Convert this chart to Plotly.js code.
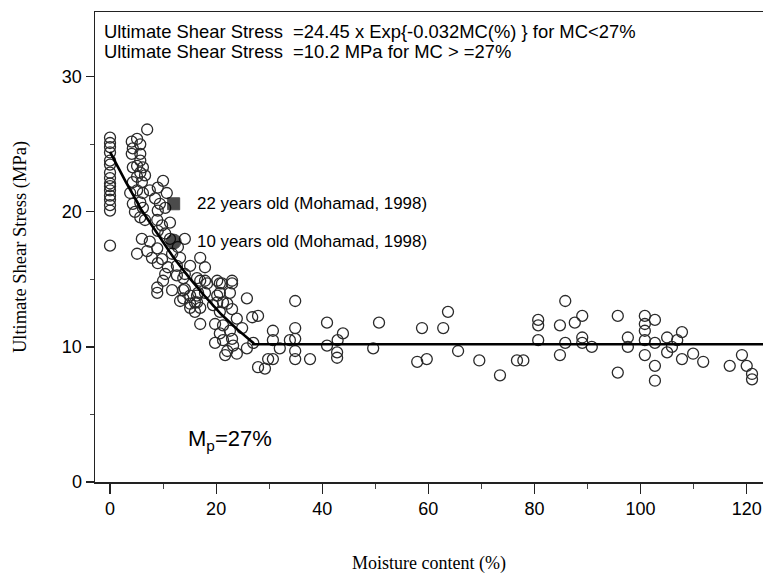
<!DOCTYPE html>
<html>
<head>
<meta charset="utf-8">
<script src="https://cdn.plot.ly/plotly-3.0.1.min.js"></script>
<style>html,body{margin:0;padding:0;background:#fff;}#chart{width:763px;height:574px;}</style>
</head>
<body>
<div id="chart"></div>
<script>
// Measured data: moisture content (%) and ultimate shear stress (MPa)
const moisture = [
  0,0,0,0,0,0,0,0,0,0,0,0,0,0,0,0,
  7.0,5.1,4.1,5.7,4.3,5.7,4.1,5.7,5.1,6.2,4.3,5.7,5.1,6.6,10.0,4.3,6.0,9.0,10.7,3.8,
  5.1,6.2,7.5,8.5,9.4,4.3,5.7,6.2,4.7,5.7,6.6,9.0,10.4,8.9,9.8,11.3,9.0,10.4,6.0,7.5,
  11.3,14.1,12.8,5.1,7.0,8.9,7.9,9.8,11.7,13.2,17.0,17.9,9.0,10.9,12.6,15.1,10.4,12.6,14.1,16.4,
  10.0,17.9,20.2,23.0,21.1,8.9,8.9,11.7,13.8,15.1,16.4,17.9,20.7,22.6,25.8,13.2,15.1,16.4,20.2,22.1,
  13.8,14.1,13.8,15.1,17.0,18.3,16.6,16.0,17.0,16.0,17.0,20.7,23.0,20.2,21.3,23.0,19.4,20.7,23.9,24.9,
  26.8,27.9,19.8,21.3,20.7,22.6,19.8,21.3,23.0,23.2,22.1,21.7,23.9,25.8,27.0,27.9,29.2,29.8,30.7,30.7,
  30.7,32.0,33.9,34.9,34.9,34.9,34.9,34.9,37.7,40.9,43.9,42.9,40.9,42.8,42.8,49.6,50.7,57.9,59.7,58.8,
  62.8,63.7,65.6,69.6,73.5,76.7,77.9,80.7,80.7,80.7,84.8,85.8,84.8,85.8,87.6,89.0,89.0,89.0,90.8,95.7,
  95.7,97.6,97.6,100.8,100.8,100.8,100.8,100.8,102.7,102.7,102.7,102.7,105.0,105.0,105.9,106.9,107.8,107.8,109.9,111.8,
  116.8,119.1,120.0,121.0,121.0
];
const shearStress = [
  25.5,25.1,24.8,24.4,23.8,23.5,22.9,22.5,22.1,21.9,21.6,21.2,20.9,20.5,20.1,17.5,
  26.1,25.4,25.2,25.0,24.7,24.3,24.3,23.8,23.4,23.3,23.3,22.9,22.6,22.7,22.3,22.2,22.2,21.8,21.4,21.4,
  21.6,21.4,21.6,21.0,20.6,20.6,20.7,20.3,20.0,19.6,19.4,20.1,20.3,19.4,19.0,19.2,18.6,18.4,18.0,17.8,
  18.0,18.0,17.4,16.9,17.1,17.3,16.6,16.5,16.9,16.6,16.6,15.9,16.2,15.9,16.0,16.0,15.4,15.3,15.4,15.1,
  14.9,14.9,14.9,14.9,14.7,14.4,14.0,14.2,14.2,13.8,13.8,14.0,14.0,14.0,13.6,13.4,13.2,13.3,13.3,13.2,
  15.1,14.3,13.6,12.9,14.9,14.7,14.0,13.3,12.9,12.6,11.7,14.7,14.7,13.8,13.3,12.8,13.1,12.6,12.1,11.4,
  12.2,12.3,11.7,11.6,11.0,11.2,10.3,10.5,10.6,10.1,9.7,9.4,9.5,9.9,10.3,8.5,8.4,9.1,9.1,11.2,
  10.5,9.9,10.5,13.4,11.4,10.6,9.7,9.1,9.1,11.8,11.0,10.5,10.1,9.6,9.2,9.9,11.8,8.9,9.1,11.4,
  11.4,12.6,9.7,9.0,7.9,9.0,9.0,12.0,11.6,10.5,11.6,13.4,9.4,10.3,11.8,12.3,10.7,10.3,10.0,12.3,
  8.1,10.7,10.0,12.3,11.7,11.2,10.5,9.4,12.0,10.3,8.6,7.5,10.7,9.6,10.0,10.5,11.1,9.1,9.5,8.9,
  8.6,9.4,8.6,8.0,7.6
];
// Mohamad (1998) reference points
const refLabels = ["22 years old (Mohamad, 1998)", "10 years old (Mohamad, 1998)"];
const refMoisture = [12, 12];
const refStress = [20.6, 17.8];
const refSymbols = ["square", "circle"];
const refSizes = [12, 15];
// Fitted curve: 24.45*exp(-0.032 MC) below 27 %, 10.2 MPa above
const fitMoisture = [0, 3, 6, 9, 12, 15, 18, 21, 24, 27, 27, 125];
const fitStress = [24.45, 22.2, 20.1, 18.3, 16.6, 15.1, 13.7, 12.4, 11.3, 10.3, 10.2, 10.2];
const xTicks = [0, 20, 40, 60, 80, 100, 120];
const yTicks = [0, 10, 20, 30];

const sans = "Liberation Sans, Arial, sans-serif";
const serif = "Liberation Serif, Times New Roman, serif";

const traces = [
  {
    x: moisture, y: shearStress, type: "scatter", mode: "markers", name: "Data",
    marker: {symbol: "circle-open", size: 11, color: "#2a2a2a", line: {width: 1.3, color: "#2a2a2a"}},
    cliponaxis: false
  },
  {
    x: fitMoisture, y: fitStress, type: "scatter", mode: "lines", name: "Fit",
    line: {color: "#000", width: 2.6}
  },
  {
    x: refMoisture, y: refStress, type: "scatter", mode: "markers", name: "Mohamad 1998",
    marker: {symbol: refSymbols, size: refSizes, color: "#000", line: {width: 1, color: "#000"}}
  }
];

const annotations = [
  {xref: "paper", yref: "paper", x: 0.011, y: 0.958, xanchor: "left", yanchor: "middle", showarrow: false,
   text: "Ultimate Shear Stress \u00A0=24.45 x Exp{-0.032MC(%) } for MC<27%", font: {family: sans, size: 18.4, color: "#000"}},
  {xref: "paper", yref: "paper", x: 0.011, y: 0.915, xanchor: "left", yanchor: "middle", showarrow: false,
   text: "Ultimate Shear Stress \u00A0=10.2 MPa for MC > =27%", font: {family: sans, size: 18.4, color: "#000"}},
  {xref: "x", yref: "y", x: 16, y: refStress[0], xanchor: "left", yanchor: "middle", showarrow: false,
   text: refLabels[0], font: {family: sans, size: 16.9, color: "#000"}},
  {xref: "x", yref: "y", x: 16, y: refStress[1], xanchor: "left", yanchor: "middle", showarrow: false,
   text: refLabels[1], font: {family: sans, size: 16.9, color: "#000"}},
  {xref: "x", yref: "y", x: 14.4, y: 3.1, xanchor: "left", yanchor: "middle", showarrow: false,
   text: "M<sub>p</sub>=27%", font: {family: sans, size: 22, color: "#000"}}
];

const layout = {
  width: 763, height: 574,
  margin: {l: 95, r: 0, t: 12, b: 92, pad: 0},
  paper_bgcolor: "#fff", plot_bgcolor: "#fff",
  showlegend: false,
  xaxis: {
    range: [-2.83, 123.07], tickvals: xTicks, ticks: "outside", ticklen: 10, tickwidth: 1.2, tickcolor: "#222",
    minor: {dtick: 10, ticks: "outside", ticklen: 5, tickwidth: 1, tickcolor: "#444", showgrid: false},
    showline: true, linecolor: "#222", linewidth: 1.5, mirror: true, showgrid: false, zeroline: false,
    tickfont: {family: sans, size: 18, color: "#000"},
    title: {text: "Moisture content (%)", font: {family: serif, size: 18, color: "#000"}, standoff: 40}
  },
  yaxis: {
    range: [0, 34.8], tickvals: yTicks, ticks: "outside", ticklen: 8, tickwidth: 1.2, tickcolor: "#222",
    minor: {dtick: 5, ticks: "outside", ticklen: 4, tickwidth: 1, tickcolor: "#444", showgrid: false},
    showline: true, linecolor: "#222", linewidth: 1.5, showgrid: false, zeroline: false,
    tickfont: {family: sans, size: 18, color: "#000"},
    title: {text: "Ultimate Shear Stress (MPa)", font: {family: serif, size: 18.5, color: "#000"}, standoff: 30}
  },
  annotations: annotations
};

Plotly.newPlot("chart", traces, layout, {displayModeBar: false, staticPlot: true});
</script>
</body>
</html>
